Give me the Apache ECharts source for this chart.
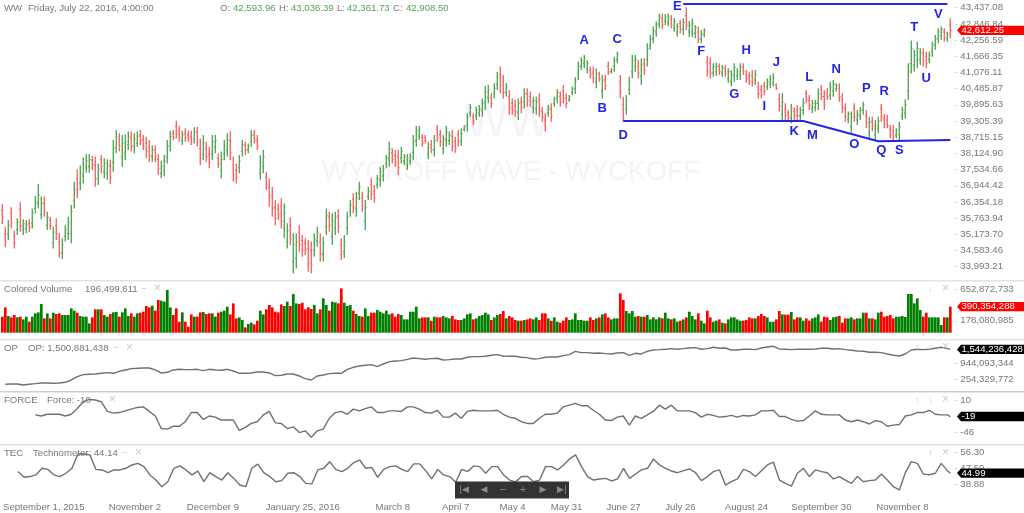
<!DOCTYPE html>
<html>
<head>
<meta charset="utf-8">
<style>html,body{margin:0;padding:0;background:#fff}#main{width:1024px;height:513px}</style>
<script src="https://cdn.jsdelivr.net/npm/echarts@6/dist/echarts.min.js"></script>
</head>
<body>
<div id="main"></div>
<script>
// date labels on the bottom axis
var dateIdx = [0, 44, 70, 100, 130, 151, 170, 188, 207, 226, 248, 273, 300];
var dateNames = ['September 1, 2015', 'November 2', 'December 9', 'January 25, 2016', 'March 8', 'April 7', 'May 4', 'May 31', 'June 27', 'July 26', 'August 24', 'September 30', 'November 8'];

// price bars
var highs = [
36280,35450,35700,36160,35310,35760,36350,35720,35700,35720,
36120,36570,37010,36550,36550,36000,35820,35450,35760,35210,
35030,35510,35820,36240,37090,37540,37680,37980,38100,38100,
38030,38010,37760,38070,37950,37910,37890,38610,38980,38860,
38800,38820,38920,38920,38860,38920,38980,38800,38730,38610,
38410,38410,38100,37860,38070,38610,38950,38980,39320,39120,
38950,39040,38950,38950,39080,39100,38670,38800,38550,38370,
38800,38800,38130,38190,38610,38860,38920,38010,37760,38070,
38610,38550,38490,38980,38980,38800,38070,38250,37460,37220,
36910,36430,36300,36490,36300,35580,35800,35210,35210,35510,
35150,35030,34970,34910,35210,35450,35210,35090,36120,36000,
35940,36000,36090,35030,35150,36000,36430,36670,36730,37090,
36730,36430,36910,37220,36970,37340,37640,37700,38070,38550,
38310,38250,38250,38370,38100,38100,38130,38800,39120,39120,
38820,38800,38550,38610,38800,39160,38980,38800,39120,38920,
38980,38730,38980,39040,39160,39590,39930,39590,39830,39890,
40130,40580,40620,40320,40680,41100,41290,40980,40680,40440,
40130,40070,40130,40190,40500,40500,40380,40190,40190,40320,
39830,39590,39890,39950,40190,40460,40380,40620,40320,40250,
40560,40900,41470,41630,41710,41530,41290,41290,41230,41100,
40980,40980,41470,41230,41650,41830,40980,40190,40250,40920,
41710,41710,41530,41590,41590,42140,42440,42750,42930,43230,
43230,43210,43230,43170,43050,42870,42990,43050,43450,42960,
43050,42810,42750,42620,42690,41680,41630,41410,41430,41410,
41350,41350,41230,41170,41410,41230,41410,41410,41170,41100,
41170,41170,40740,40620,40740,40860,40980,41040,40680,40320,
40320,39950,39710,39930,39810,39890,39830,40130,40440,40250,
40070,40070,40500,40620,40440,40500,40740,40800,40680,40680,
40320,39950,39650,39650,39950,39710,39810,40010,39710,39460,
39460,39340,39460,39930,39560,39530,39160,39160,39040,39280,
39830,40100,41410,42240,41900,42200,41960,41960,41830,41830,
42200,42440,42690,42750,42690,42560,43050];
var lows = [
35550,34700,34970,35390,34660,35150,35270,35150,35210,35250,
35390,35940,36120,35720,35820,35330,35330,34660,34970,34320,
34270,34910,34970,34850,36120,36490,36790,37030,37420,37420,
37520,36910,36970,37400,37220,37160,37010,37460,38130,38190,
37640,37880,38250,38190,38130,38370,38430,38250,37950,37820,
37820,37800,37340,37220,37280,37760,38190,38610,38670,38550,
38430,38550,38550,38430,38490,38370,37700,37880,37820,37580,
37880,38130,37580,37220,37880,38010,37880,37100,37030,37400,
38010,38070,38130,38370,38490,38250,37160,37400,36790,36180,
35820,35510,35700,35390,35030,34660,34790,33750,33930,34540,
34360,34420,33810,33750,34360,34720,34180,34180,35150,35270,
34790,35150,35210,34240,34300,35150,35820,35940,35820,36430,
36000,35330,36430,36430,36330,36850,36910,37100,37580,37640,
37760,37640,37340,37760,37700,37520,37700,37880,38370,38610,
38370,38490,37910,38130,38010,38550,38370,38090,38370,38430,
38190,38150,38370,38400,38920,38920,39460,39160,39340,39460,
39460,39710,39950,39770,40130,40440,40320,40130,40190,39530,
39530,39460,39340,39590,39770,39830,39830,39590,39530,39460,
39280,38920,39460,39280,39830,39950,39830,39950,39770,40010,
40250,40290,40800,41170,41230,41040,40860,40680,40500,40740,
40130,40440,40980,41040,41100,41410,40130,39280,39530,40250,
40860,41100,40860,40620,40980,41290,41900,42140,42380,42690,
42650,42810,42750,42690,42560,42380,42500,42440,42620,42360,
42360,42320,42140,42140,42360,40920,40860,40920,40950,40980,
40920,40920,40700,40560,40740,40800,40800,40980,40700,40620,
40560,40620,40130,40130,40250,40440,40500,40560,40440,39650,
39280,39340,39340,39220,39340,39340,39340,39530,39950,39710,
39590,39650,39710,40070,39710,40070,40070,40190,40380,40010,
39590,39280,39220,38860,39280,39160,39340,39530,39040,38670,
38920,38610,38860,39280,39040,39040,38670,38610,38670,38610,
39340,39400,40070,41040,41100,41230,41350,41290,41230,41410,
41650,41900,42140,42260,42200,42200,42320];
var opens = [
36060,35200,35180,35950,35100,35350,36100,35330,35380,35580,
35590,36120,36300,35900,36300,35500,35700,34850,35500,34900,
34500,35100,35200,35200,36400,37200,37050,37300,37600,37650,
37880,37700,37200,37900,37450,37400,37650,37800,38350,38650,
38000,38150,38450,38700,38350,38500,38800,38620,38500,38350,
38000,38250,37900,37400,37500,38000,38400,38850,39100,38950,
38600,38850,38800,38750,38650,38900,38300,38100,38300,38100,
38100,38350,37950,37500,38100,38250,38600,37700,37500,37600,
38200,38400,38250,38550,38800,38600,37400,37650,37250,36900,
36600,36150,36100,36200,35400,34900,35500,34200,34300,35250,
34950,34850,34650,34600,34600,34950,34900,34450,35450,35800,
35100,35400,35850,34800,34550,35400,36000,36450,36100,36650,
36500,35650,36550,37000,36750,37000,37150,37300,37750,37950,
38150,38050,38000,37950,37850,37700,37850,38150,38600,38750,
38700,38700,38100,38450,38250,39000,38800,38300,38600,38600,
38750,38550,38800,38600,39000,39150,39600,39450,39500,39600,
39700,40000,40150,40150,40300,40650,41000,40750,40350,40200,
39950,39850,39600,40000,40000,40300,40200,39800,39750,40100,
39650,39350,39600,39750,39950,40150,40200,40400,40150,40080,
40350,40500,41050,41300,41400,41200,41150,41050,40750,40980,
40400,40800,41300,41100,41300,41550,40750,39900,39750,40450,
41100,41300,41300,40950,41400,41550,42050,42300,42550,42850,
43050,42950,42900,43000,42700,42550,42850,42650,43150,42550,
42550,42500,42550,42300,42450,41450,41400,41050,41100,41300,
41050,41200,40850,40750,40950,40950,41000,41300,41000,40950,
40950,40800,40550,40450,40600,40550,40650,40700,40620,40100,
39550,39750,39600,39400,39650,39700,39500,39700,40300,40050,
39750,39800,39950,40450,40200,40350,40250,40400,40480,40500,
40100,39750,39350,39100,39750,39350,39500,39700,39500,38900,
39300,38800,39050,39750,39400,39350,39000,38950,38800,38800,
39500,39600,40400,41400,41350,41500,41550,41750,41650,41550,
41850,42100,42300,42400,42550,42300,42800];
var closes = [
35800,34900,35500,35620,34850,35620,35480,35560,35520,35420,
35950,36350,36600,36300,36000,35800,35500,35250,35200,34500,
34800,35350,35600,36000,36800,36800,37400,37700,37850,37900,
37700,37200,37550,37650,37750,37700,37250,38300,38750,38400,
38500,38550,38750,38400,38650,38750,38600,38400,38200,38050,
38250,38000,37550,37650,37850,38400,38750,38700,38850,38700,
38800,38700,38650,38550,38900,38550,37950,38500,38000,37800,
38550,38600,37750,37900,38400,38600,38150,37350,37250,37850,
38450,38250,38400,38800,38600,38400,37800,38000,37000,36500,
36100,35750,35900,35650,35950,35300,35000,34800,34900,34800,
34600,34600,34100,34050,35000,35250,34450,34850,35850,35500,
35650,35800,35450,34450,34900,35800,36250,36150,36500,36900,
36200,36150,36750,36650,36500,37200,37450,37550,37950,38300,
37900,37800,37600,38200,38000,37950,38000,38550,38950,39000,
38500,38580,38350,38250,38600,38700,38550,38650,38900,38800,
38400,38300,38550,38850,39100,39450,39800,39300,39700,39750,
39950,40350,40450,39950,40500,40900,40600,40350,40550,39800,
39700,39650,39950,39800,40300,40050,40000,40050,40000,39700,
39450,39100,39750,39500,40100,40350,40000,40150,39950,40180,
40480,40750,41300,41500,41600,41400,41000,40850,41050,40850,
40800,40600,41100,41180,41500,41750,40350,39400,40050,40750,
41500,41550,41050,41350,41150,41950,42300,42600,42800,43100,
42800,43100,43100,42800,42950,42750,42650,42900,42800,42800,
42850,42700,42300,42500,42600,41100,41050,41300,41300,41100,
41250,41050,41100,41000,41250,41100,41250,41100,40850,40750,
40700,41000,40300,40250,40400,40750,40850,40900,40500,39850,
40000,39500,39450,39750,39500,39500,39700,39950,40100,39850,
39950,39950,40300,40200,39900,40200,40550,40650,40600,40200,
39800,39450,39550,39450,39450,39550,39700,39900,39250,39250,
39100,39150,39300,39450,39200,39150,38800,38750,38950,39100,
39700,39900,41100,41950,41700,41950,41800,41500,41400,41700,
42050,42300,42550,42650,42350,42450,42612];

// volume in millions
var volumes = [
240,380,250,230,265,230,240,200,240,165,
240,290,305,430,215,290,215,300,280,290,
265,265,265,365,330,300,250,240,240,140,
230,350,350,350,265,240,280,305,310,240,
305,365,250,290,240,290,300,315,400,380,
405,330,490,480,465,640,380,265,365,165,
305,165,90,275,240,240,305,310,280,290,
290,240,300,315,330,390,275,440,215,230,
190,80,130,150,125,180,330,275,350,415,
380,315,305,425,400,465,400,580,440,430,
450,350,380,355,415,290,350,515,415,330,
465,455,440,
665,450,400,415,330,280,250,240,365,250,
300,300,340,315,290,330,275,290,240,280,
265,200,200,315,315,390,215,230,230,230,
180,240,230,230,250,230,215,250,200,190,
190,215,275,290,200,215,250,265,300,275,
190,230,265,280,325,215,250,230,190,180,
180,190,200,215,200,230,190,290,290,215,
180,230,165,150,180,230,190,200,290,190,
190,180,180,230,190,215,230,275,290,230,
200,215,215,590,490,325,290,325,240,250,
240,240,265,200,230,200,230,215,300,215,
200,215,165,
180,200,230,315,250,200,290,180,140,330,
230,165,180,200,150,140,200,230,230,200,
180,180,190,230,215,215,250,280,250,230,
165,165,200,325,275,270,270,310,200,230,
230,180,215,180,215,230,275,165,240,230,
190,230,240,250,150,215,215,230,200,215,
215,300,300,215,215,200,300,315,240,250,
265,215,240,240,250,235,580,580,440,515,
340,240,300,230,230,230,230,115,230,230,390];

// indicator lines, one reading every second bar
var opStart = 1;
var opValues = [
39,53,53,10,39,67,96,96,82,96,
125,225,369,455,470,484,513,542,513,599,
657,714,728,743,743,657,527,556,657,685,
671,671,685,628,685,657,642,685,613,513,
513,527,570,570,527,412,427,484,484,398,
283,225,398,441,498,513,
513,685,772,829,858,887,800,915,1016,1045,
1059,1116,1174,1145,1116,1145,1160,1088,1102,1131,
1131,1203,1231,1231,1246,1289,1318,1260,1246,1246,
1203,1188,1131,1145,1203,1217,1217,1275,1318,1461,
1404,1404,1375,1389,1361,1346,1389,1404,1289,1375,
1346,1461,1519,1533,1548,1576,1548,
1576,1605,1619,1548,1576,1634,1591,1605,1519,1519,
1548,1548,1533,1605,1648,1677,1562,1548,1533,1548,
1548,1548,1562,1591,1591,1562,1576,1533,1504,1476,
1461,1418,1418,1404,1346,1289,1260,1346,1519,1548,
1533,1548,1591,1634,1576];
var forceStart = 11;
var forceValues = [
-16,-18,-15,-15,-15,-18,-15,-5,7,11,
10,7,-10,-13,-12,-9,-6,-3,-2,-10,
-18,-40,-41,-36,-36,-28,-12,-12,-24,-18,
-20,-25,-25,-25,-43,-38,-31,-28,-16,-10,
-30,-31,-40,-37,-47,-44,-55,-44,-41,-22,
-12,
-10,-15,-6,-9,-5,-2,-12,-12,-9,-9,
-10,-2,-2,-6,-12,-13,-8,-20,-20,-13,
-22,-10,-8,-9,-9,-9,-8,-15,-20,-22,
-28,-31,-31,-22,-15,-15,-13,-2,1,4,
0,0,-8,-15,-25,-26,-20,-18,-34,-18,
-22,-16,-10,1,-6,1,-9,
-9,-9,-12,-20,-15,-17,-20,-19,-17,-20,
-17,-18,-16,-9,-9,-8,-19,-19,-24,-27,
-26,-18,-9,-15,-16,-16,-16,-25,-28,-25,
-28,-32,-26,-28,-36,-34,-33,-18,-16,-12,
-12,-8,-15,-16,-16];
var tecStart = 5;
var tecValues = [
45.8,42.7,43.1,44.0,47.6,47.0,44.0,43.1,44.9,47.6,
55.4,55.4,54.9,47.0,46.7,45.2,46.7,46.7,47.6,49.4,
50.3,48.5,44.0,41.2,37.6,40.3,47.6,48.9,46.7,44.0,
46.1,40.3,45.2,43.1,41.2,45.2,42.1,38.5,37.6,47.6,
49.9,45.2,43.1,40.3,40.9,44.9,45.2,43.1,39.4,39.1,
46.7,47.6,51.2,47.0,
45.8,47.6,50.7,52.1,47.6,48.1,42.7,47.0,48.5,48.9,
47.0,45.8,50.0,50.0,46.3,41.8,47.0,44.0,43.1,40.0,
47.0,45.8,48.9,48.5,44.9,48.5,48.5,44.0,41.2,40.2,
43.1,43.1,40.3,41.2,48.5,48.5,46.7,49.4,52.7,54.9,
48.5,43.1,41.2,41.8,42.1,40.7,41.8,47.6,42.1,44.5,
46.7,47.6,52.7,49.4,47.6,46.1,45.2,
46.3,47.2,45.2,40.9,43.1,45.8,46.7,38.5,40.3,41.8,
47.0,45.8,43.1,46.3,49.4,50.9,41.2,39.4,37.9,44.9,
47.6,43.1,46.7,45.8,45.2,41.8,43.1,41.2,39.4,43.1,
40.3,40.9,41.2,44.5,41.2,37.6,35.8,45.2,51.2,50.3,
44.5,44.0,44.9,50.3,46.3];

// last values shown in the right hand tags
var lastPrice = 42612.25, lastVolume = 390354288, lastOp = 1544.236428, lastForce = -19, lastTec = 44.99;

// axis tick labels
var priceTicks = [43437.08,42846.84,42256.59,41666.35,41076.11,40485.87,39895.63,39305.39,38715.15,38124.90,37534.66,36944.42,36354.18,35763.94,35173.70,34583.46,33993.21];
var volumeTicks = [652.872733, 178.080985];
var opTicks = [944.093344, 254.329772];
var forceTicks = [10, -46];
var tecTicks = [56.30, 47.59, 38.88];

// drawn annotations
var topLine = [[227, 43572], [315, 43572]];
var supportLine = [[207, 39306], [267, 39306], [292, 38566], [316, 38614]];
var letters = ['A','B','C','D','E','F','G','H','I','J','K','L','M','N','O','P','Q','R','S','T','U','V'];
var letterIdx = [194,200,205,207,225,233,244,248,254,258,264,269,270,278,284,288,293,294,299,304,308,312];
var letterPrice = [42234,39755,42285,38796,43474,41833,40291,41895,39853,41457,38916,40885,38770,41202,38457,40499,38238,40375,38223,42734,40874,43208];

var FONT = '"Liberation Sans", Arial, sans-serif';
var FS = 9.6;
var RED = '#ff6464', GREEN = '#55a855', BLUE = '#2424e6', GREY = '#777';

var categories = highs.map(function (h, i) {
    var k = dateIdx.indexOf(i);
    return k >= 0 ? dateNames[k] : '';
});

function fmt(v, d) {
    return v.toLocaleString('en-US', { minimumFractionDigits: d, maximumFractionDigits: d });
}

function lineData(values, start, last) {
    var out = values.map(function (v, k) { return [start + 2 * k, v]; });
    out.push([316, last]);
    return out;
}

var barData = highs.map(function (h, i) { return [i, opens[i], h, lows[i], closes[i]]; });

function renderBar(params, api) {
    var i = api.value(0);
    var o = api.coord([i, api.value(1)]);
    var h = api.coord([i, api.value(2)]);
    var l = api.coord([i, api.value(3)]);
    var c = api.coord([i, api.value(4)]);
    var col = api.value(4) < api.value(1) ? RED : GREEN;
    var st = { stroke: col, lineWidth: 1.4 };
    return {
        type: 'group',
        children: [
            { type: 'line', shape: { x1: o[0], y1: h[1], x2: o[0], y2: l[1] }, style: st },
            { type: 'line', shape: { x1: o[0] - 1.4, y1: o[1], x2: o[0], y2: o[1] }, style: { stroke: col, lineWidth: 1 } },
            { type: 'line', shape: { x1: c[0], y1: c[1], x2: c[0] + 1.4, y2: c[1] }, style: { stroke: col, lineWidth: 1 } }
        ]
    };
}

// arrow shaped tag at the right edge
function tagSeries(grid, value, text, color) {
    return {
        type: 'custom',
        xAxisIndex: grid,
        yAxisIndex: grid,
        clip: false,
        silent: true,
        z: 20,
        data: [[316, value]],
        encode: { x: 0, y: 1 },
        renderItem: function (params, api) {
            var y = api.coord([316, api.value(1)])[1];
            return {
                type: 'group',
                children: [
                    { type: 'polygon', shape: { points: [[957, y], [961, y - 4.7], [1024, y - 4.7], [1024, y + 4.7], [961, y + 4.7]] }, style: { fill: color } },
                    { type: 'text', style: { x: 961.5, y: y, text: text, fill: '#fff', fontSize: FS, fontFamily: FONT, verticalAlign: 'middle', align: 'left' } }
                ]
            };
        }
    };
}

var grids = [
    { left: 0.8, width: 951, top: 0, height: 279 },
    { left: 0.8, width: 951, top: 284, height: 48.7 },
    { left: 0.8, width: 951, top: 340, height: 51 },
    { left: 0.8, width: 951, top: 392, height: 52 },
    { left: 0.8, width: 951, top: 445, height: 55 }
];

function xAxis(i) {
    return {
        type: 'category',
        gridIndex: i,
        data: categories,
        boundaryGap: true,
        axisLine: { show: false },
        axisTick: { show: false },
        splitLine: { show: false },
        axisLabel: i === 4 ? {
            show: true, interval: 0, margin: 2, color: GREY, fontSize: FS, fontFamily: FONT,
            alignMinLabel: 'left', showMinLabel: true, showMaxLabel: false, hideOverlap: false
        } : { show: false }
    };
}

function yAxis(i, min, max, ticks, digits) {
    return {
        type: 'value',
        gridIndex: i,
        position: 'right',
        offset: 3.5,
        min: min,
        max: max,
        scale: true,
        splitLine: { show: false },
        axisLine: { show: false },
        axisTick: { show: true, length: 2, lineStyle: { color: '#ccc' }, customValues: ticks },
        axisLabel: {
            show: true, margin: 5, color: GREY, fontSize: FS, fontFamily: FONT, customValues: ticks,
            formatter: function (v) {
                return digits === 'M' ? fmt(Math.round(v * 1e6), 0) : fmt(v, digits);
            }
        }
    };
}

function lineSeries(i, data) {
    return {
        type: 'line',
        xAxisIndex: i,
        yAxisIndex: i,
        data: data,
        showSymbol: false,
        silent: true,
        lineStyle: { color: '#707070', width: 1.4 }
    };
}

function trend(data) {
    return {
        type: 'line', xAxisIndex: 0, yAxisIndex: 0, data: data, showSymbol: false, silent: true, clip: false, z: 5,
        lineStyle: { color: BLUE, width: 2 }
    };
}

// page texts around the panes
function txt(x, y, text, fill, size, weight) {
    return {
        type: 'text', x: x, y: y, silent: true, z: 30,
        style: { text: text, fill: fill || GREY, fontSize: size || FS, fontFamily: FONT, fontWeight: weight || 'normal', verticalAlign: 'middle', align: 'left' }
    };
}
function mid(x, y, text, fill, size) {
    return {
        type: 'text', x: x, y: y, silent: true, z: 1,
        style: { text: text, fill: fill, fontSize: size, fontFamily: FONT, verticalAlign: 'middle', align: 'center' }
    };
}
function sep(y, h, color) {
    return { type: 'rect', silent: true, shape: { x: 0, y: y, width: 1024, height: h }, style: { fill: color } };
}
var OK = '#55a055', ICON = '#c8c8c8';
var navIcons = ['|◀', '◀', '−', '+', '▶', '▶|'];
var navX = [464, 484, 503, 523, 543, 562];

var graphics = [
    mid(508, 123, 'WW', '#f4f4f4', 46),
    mid(511, 173, 'WYCKOFF WAVE - WYCKOFF', '#f4f4f4', 27),
    sep(280, 1.5, '#e2e2e2'), sep(339, 1.5, '#e2e2e2'), sep(391, 1.5, '#cfcfcf'), sep(444, 1.5, '#e2e2e2'),
    txt(4, 8, 'WW'), txt(28, 8, 'Friday, July 22, 2016, 4:00:00'),
    txt(220, 8, 'O:'), txt(233, 8, '42,593.96', OK), txt(279, 8, 'H:'), txt(291, 8, '43,036.39', OK),
    txt(337, 8, 'L:'), txt(347, 8, '42,361.73', OK), txt(393, 8, 'C:'), txt(406, 8, '42,908.50', OK),
    txt(4, 289, 'Colored Volume'), txt(85, 289, '196,499,611'), txt(141, 289, '−', ICON), txt(154, 289, '×', ICON, 12),
    txt(4, 348, 'OP'), txt(28, 348, 'OP: 1,500,881,438'), txt(113, 348, '−', ICON), txt(126, 348, '×', ICON, 12),
    txt(4, 400, 'FORCE'), txt(47, 400, 'Force: -10'), txt(109, 400, '×', ICON, 12),
    txt(4, 453, 'TEC'), txt(33, 453, 'Technometer: 44.14'), txt(122, 453, '−', ICON), txt(135, 453, '×', ICON, 12),
    txt(928, 289, '↓', ICON), txt(942, 289, '×', ICON, 12),
    txt(915, 347, '↑', ICON), txt(928, 347, '↓', ICON), txt(942, 347, '×', ICON, 12),
    txt(915, 400, '↑', ICON), txt(928, 400, '↓', ICON), txt(942, 400, '×', ICON, 12),
    txt(928, 453, '↑', ICON), txt(942, 453, '×', ICON, 12),
    { type: 'rect', silent: true, z: 30, shape: { x: 455, y: 481.5, width: 114, height: 17 }, style: { fill: '#333' } }
].concat(navIcons.map(function (s, k) {
    return {
        type: 'text', x: navX[k], y: 490, silent: true, z: 31,
        style: { text: s, fill: '#8a8a8a', fontSize: 9, fontFamily: '"DejaVu Sans"', verticalAlign: 'middle', align: 'center' }
    };
}));

var myChart = echarts.init(document.getElementById('main'));

myChart.setOption({
    animation: false,
    backgroundColor: '#fff',
    grid: grids,
    xAxis: [0, 1, 2, 3, 4].map(xAxis),
    yAxis: [
        yAxis(0, 33546, 43718, priceTicks, 2),
        yAxis(1, 0, 730, volumeTicks, 'M'),
        yAxis(2, -250, 1948.6, opTicks, 'M'),
        yAxis(3, -67, 24, forceTicks, 0),
        yAxis(4, 30.35, 60.27, tecTicks, 2)
    ],
    graphic: graphics,
    series: [
        {
            type: 'custom', xAxisIndex: 0, yAxisIndex: 0, data: barData, silent: true,
            encode: { x: 0, y: [1, 2, 3, 4] }, renderItem: renderBar
        },
        trend(topLine),
        trend(supportLine),
        {
            type: 'scatter', xAxisIndex: 0, yAxisIndex: 0, symbolSize: 0, silent: true, z: 6,
            itemStyle: { opacity: 1 },
            data: letters.map(function (s, k) { return { name: s, value: [letterIdx[k], letterPrice[k]] }; }),
            label: { show: true, position: 'inside', formatter: '{b}', color: BLUE, opacity: 1, fontSize: 13, fontWeight: 'bold', fontFamily: FONT }
        },
        {
            type: 'bar', xAxisIndex: 1, yAxisIndex: 1, barWidth: 2.7, silent: true,
            data: volumes.map(function (v, i) {
                return { value: v, itemStyle: { color: closes[i] < opens[i] ? '#ff0000' : '#008000' } };
            })
        },
        lineSeries(2, lineData(opValues, opStart, lastOp)),
        lineSeries(3, lineData(forceValues, forceStart, lastForce)),
        lineSeries(4, lineData(tecValues, tecStart, lastTec)),
        tagSeries(0, lastPrice, fmt(lastPrice, 2), '#ff0000'),
        tagSeries(1, lastVolume / 1e6, fmt(lastVolume, 0), '#ff0000'),
        tagSeries(2, lastOp, fmt(Math.round(lastOp * 1e6), 0), '#000'),
        tagSeries(3, lastForce, String(lastForce), '#000'),
        tagSeries(4, lastTec, fmt(lastTec, 2), '#000')
    ]
});
</script>
</body>
</html>
